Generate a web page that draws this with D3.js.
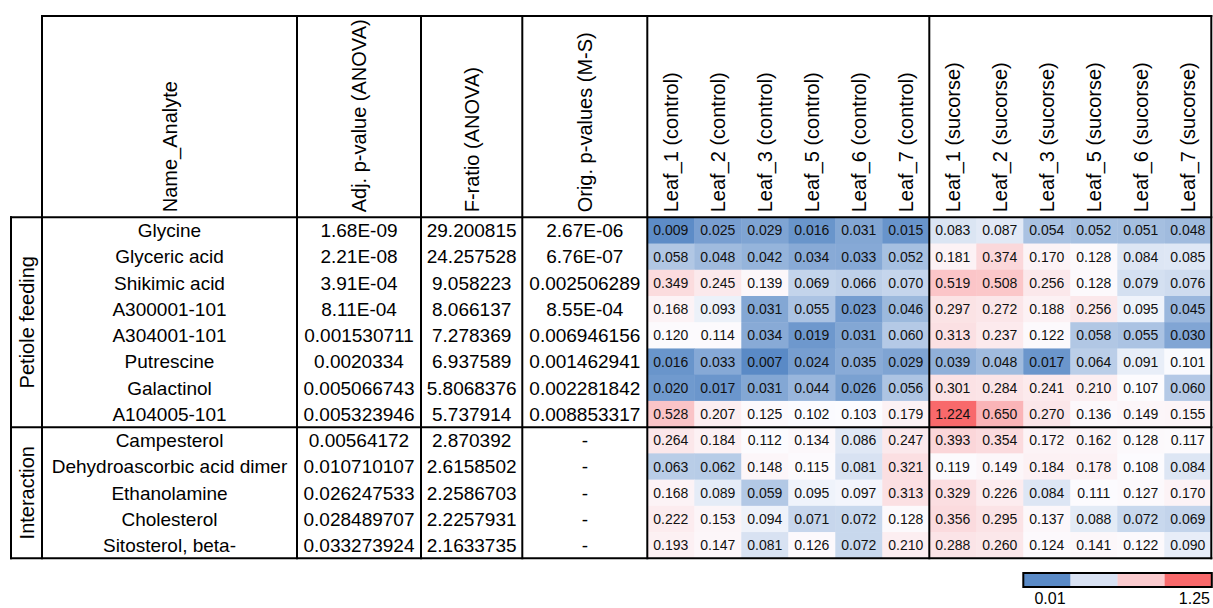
<!DOCTYPE html>
<html>
<head>
<meta charset="utf-8">
<script src="https://cdn.jsdelivr.net/npm/d3@7"></script>
<style>
  html, body { margin: 0; padding: 0; background: #fff; }
  svg { display: block; font-family: Arial, "Liberation Sans", sans-serif; }
</style>
</head>
<body>
<svg id="chart" width="1213" height="608"></svg>
<script>
// ---- data ----
const groups = ["Petiole feeding", "Interaction"];
const groupOf = [0, 0, 0, 0, 0, 0, 0, 0, 1, 1, 1, 1, 1];

const analytes = [
  "Glycine", "Glyceric acid", "Shikimic acid", "A300001-101", "A304001-101",
  "Putrescine", "Galactinol", "A104005-101", "Campesterol",
  "Dehydroascorbic acid dimer", "Ethanolamine", "Cholesterol", "Sitosterol, beta-"
];

const adjP = [
  "1.68E-09", "2.21E-08", "3.91E-04", "8.11E-04", "0.001530711", "0.0020334",
  "0.005066743", "0.005323946", "0.00564172", "0.010710107", "0.026247533",
  "0.028489707", "0.033273924"
];

const fRatio = [
  "29.200815", "24.257528", "9.058223", "8.066137", "7.278369", "6.937589",
  "5.8068376", "5.737914", "2.870392", "2.6158502", "2.2586703", "2.2257931",
  "2.1633735"
];

const origP = [
  "2.67E-06", "6.76E-07", "0.002506289", "8.55E-04", "0.006946156",
  "0.001462941", "0.002281842", "0.008853317", "-", "-", "-", "-", "-"
];

const tableHeaders = ["Name_Analyte", "Adj. p-value (ANOVA)", "F-ratio (ANOVA)", "Orig. p-values (M-S)"];

const controlSamples = ["Leaf_1 (control)", "Leaf_2 (control)", "Leaf_3 (control)",
                        "Leaf_5 (control)", "Leaf_6 (control)", "Leaf_7 (control)"];
const sucroseSamples = ["Leaf_1 (sucorse)", "Leaf_2 (sucorse)", "Leaf_3 (sucorse)",
                        "Leaf_5 (sucorse)", "Leaf_6 (sucorse)", "Leaf_7 (sucorse)"];

const controlValues = [
  [0.009, 0.025, 0.029, 0.016, 0.031, 0.015],
  [0.058, 0.048, 0.042, 0.034, 0.033, 0.052],
  [0.349, 0.245, 0.139, 0.069, 0.066, 0.070],
  [0.168, 0.093, 0.031, 0.055, 0.023, 0.046],
  [0.120, 0.114, 0.034, 0.019, 0.031, 0.060],
  [0.016, 0.033, 0.007, 0.024, 0.035, 0.029],
  [0.020, 0.017, 0.031, 0.044, 0.026, 0.056],
  [0.528, 0.207, 0.125, 0.102, 0.103, 0.179],
  [0.264, 0.184, 0.112, 0.134, 0.086, 0.247],
  [0.063, 0.062, 0.148, 0.115, 0.081, 0.321],
  [0.168, 0.089, 0.059, 0.095, 0.097, 0.313],
  [0.222, 0.153, 0.094, 0.071, 0.072, 0.128],
  [0.193, 0.147, 0.081, 0.126, 0.072, 0.210]
];

const sucroseValues = [
  [0.083, 0.087, 0.054, 0.052, 0.051, 0.048],
  [0.181, 0.374, 0.170, 0.128, 0.084, 0.085],
  [0.519, 0.508, 0.256, 0.128, 0.079, 0.076],
  [0.297, 0.272, 0.188, 0.256, 0.095, 0.045],
  [0.313, 0.237, 0.122, 0.058, 0.055, 0.030],
  [0.039, 0.048, 0.017, 0.064, 0.091, 0.101],
  [0.301, 0.284, 0.241, 0.210, 0.107, 0.060],
  [1.224, 0.650, 0.270, 0.136, 0.149, 0.155],
  [0.393, 0.354, 0.172, 0.162, 0.128, 0.117],
  [0.119, 0.149, 0.184, 0.178, 0.108, 0.084],
  [0.329, 0.226, 0.084, 0.111, 0.127, 0.170],
  [0.356, 0.295, 0.137, 0.088, 0.072, 0.069],
  [0.288, 0.260, 0.124, 0.141, 0.122, 0.090]
];

const legendLabels = ["0.01", "1.25"];

// ---- layout ----
const svg = d3.select("#chart");
const tableTop = 16, headBottom = 217.3, tableBottom = 558.3;
const groupLeft = 11;
const colEdges = [42, 297, 421, 522.3, 647.3];   // name | adj p | F | orig p
const heatLeft = 647.3, heatRight = 1211.3;
const FONT = 19, HEAD_FONT = 20, CELL_FONT = 14;

const samples = controlSamples.concat(sucroseSamples);
const values = controlValues.map((r, i) => r.concat(sucroseValues[i]));

const y = d3.scaleBand().domain(analytes).range([headBottom, tableBottom]);
const x = d3.scaleBand().domain(samples).range([heatLeft, heatRight]);

// three-colour scale: low blue, median white, high red
const all = values.flat();
const color = d3.scaleLinear()
  .domain([d3.min(all), d3.median(all), d3.max(all)])
  .range(["#5A8AC6", "#FCFCFF", "#F8696B"])
  .interpolate(d3.interpolateRgb);

// heatmap cells
const cells = svg.append("g");
analytes.forEach((a, i) => {
  samples.forEach((s, j) => {
    const v = values[i][j];
    cells.append("rect")
      .attr("x", x(s)).attr("y", y(a))
      .attr("width", x.bandwidth() + 0.5).attr("height", y.bandwidth() + 0.5)
      .attr("fill", color(v));
    cells.append("text")
      .attr("x", x(s) + x.bandwidth() / 2)
      .attr("y", y(a) + y.bandwidth() / 2)
      .attr("dy", "0.36em")
      .attr("text-anchor", "middle")
      .attr("font-size", CELL_FONT)
      .attr("fill", "#111")
      .text(d3.format(".3f")(v));
  });
});

// table body text
const textCols = [analytes, adjP, fRatio, origP];
const body = svg.append("g").attr("font-size", FONT).attr("fill", "#000");
textCols.forEach((col, c) => {
  const cx = (colEdges[c] + colEdges[c + 1]) / 2;
  col.forEach((t, i) => {
    body.append("text")
      .attr("x", cx)
      .attr("y", y(analytes[i]) + y.bandwidth() / 2)
      .attr("dy", "0.36em")
      .attr("text-anchor", "middle")
      .text(t);
  });
});

// rotated column headers
const headY = headBottom - 5;
const head = svg.append("g").attr("font-size", HEAD_FONT).attr("fill", "#000");
tableHeaders.forEach((h, c) => {
  const cx = (colEdges[c] + colEdges[c + 1]) / 2;
  head.append("text")
    .attr("transform", `translate(${cx},${headY}) rotate(-90)`)
    .attr("dy", "0.36em")
    .text(h);
});
samples.forEach(s => {
  head.append("text")
    .attr("transform", `translate(${x(s) + x.bandwidth() / 2},${headY}) rotate(-90)`)
    .attr("dy", "0.36em")
    .text(s);
});

// group labels
groups.forEach((g, k) => {
  const rows = analytes.filter((a, i) => groupOf[i] === k);
  const y0 = y(rows[0]), y1 = y(rows[rows.length - 1]) + y.bandwidth();
  svg.append("text")
    .attr("transform", `translate(${(groupLeft + colEdges[0]) / 2},${(y0 + y1) / 2}) rotate(-90)`)
    .attr("dy", "0.36em")
    .attr("text-anchor", "middle")
    .attr("font-size", HEAD_FONT)
    .text(g);
});

// borders
const lines = svg.append("g").attr("stroke", "#000").attr("stroke-width", 2)
  .attr("stroke-linecap", "square");
const vx = colEdges.concat([x(sucroseSamples[0]), heatRight]);
vx.forEach(v => lines.append("line").attr("x1", v).attr("x2", v).attr("y1", tableTop).attr("y2", tableBottom));
lines.append("line").attr("x1", groupLeft).attr("x2", groupLeft).attr("y1", headBottom).attr("y2", tableBottom);
lines.append("line").attr("x1", colEdges[0]).attr("x2", heatRight).attr("y1", tableTop).attr("y2", tableTop);
const groupBreak = y(analytes[groupOf.indexOf(1)]);
[headBottom, groupBreak, tableBottom].forEach(h =>
  lines.append("line").attr("x1", groupLeft).attr("x2", heatRight).attr("y1", h).attr("y2", h));

// legend
const legendColors = ["#5A8AC6", "#D9E2F3", "#FACBCE", "#F8696B"];
const lx = d3.scaleBand().domain(d3.range(legendColors.length)).range([1023.3, 1211.8]);
const lg = svg.append("g");
legendColors.forEach((c, i) => {
  lg.append("rect").attr("x", lx(i)).attr("y", 573).attr("width", lx.bandwidth() + 0.3)
    .attr("height", 14).attr("fill", c);
});
lg.append("rect").attr("x", 1023.3).attr("y", 573).attr("width", 1211.8 - 1023.3).attr("height", 14)
  .attr("fill", "none").attr("stroke", "#000").attr("stroke-width", 2);
lg.append("text").attr("x", 1050).attr("y", 604).attr("text-anchor", "middle")
  .attr("font-size", 16).text(legendLabels[0]);
lg.append("text").attr("x", 1210).attr("y", 604).attr("text-anchor", "end")
  .attr("font-size", 16).text(legendLabels[1]);
</script>
</body>
</html>
